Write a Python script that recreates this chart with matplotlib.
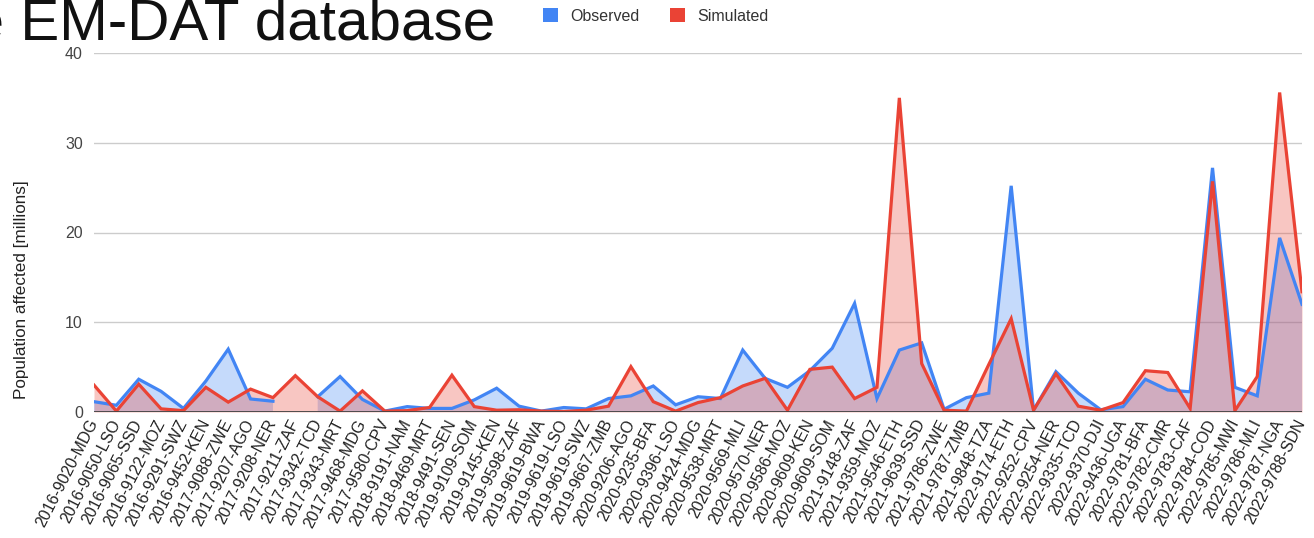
import numpy as np
import matplotlib
matplotlib.use("Agg")
import matplotlib.pyplot as plt
from matplotlib.patches import Patch

plt.rcParams['font.family'] = ['Liberation Sans', 'DejaVu Sans']

eventos = [
    "2016-9020-MDG", "2016-9050-LSO", "2016-9065-SSD", "2016-9122-MOZ", "2016-9291-SWZ",
    "2016-9452-KEN", "2017-9088-ZWE", "2017-9207-AGO", "2017-9208-NER", "2017-9211-ZAF",
    "2017-9342-TCD", "2017-9343-MRT", "2017-9468-MDG", "2017-9580-CPV", "2018-9191-NAM",
    "2018-9469-MRT", "2018-9491-SEN", "2019-9109-SOM", "2019-9145-KEN", "2019-9598-ZAF",
    "2019-9619-BWA", "2019-9619-LSO", "2019-9619-SWZ", "2019-9667-ZMB", "2020-9206-AGO",
    "2020-9235-BFA", "2020-9396-LSO", "2020-9424-MDG", "2020-9538-MRT", "2020-9569-MLI",
    "2020-9570-NER", "2020-9586-MOZ", "2020-9609-KEN", "2020-9609-SOM", "2021-9148-ZAF",
    "2021-9359-MOZ", "2021-9546-ETH", "2021-9639-SSD", "2021-9786-ZWE", "2021-9787-ZMB",
    "2021-9848-TZA", "2022-9174-ETH", "2022-9252-CPV", "2022-9254-NER", "2022-9335-TCD",
    "2022-9370-DJI", "2022-9436-UGA", "2022-9781-BFA", "2022-9782-CMR", "2022-9783-CAF",
    "2022-9784-COD", "2022-9785-MWI", "2022-9786-MLI", "2022-9787-NGA", "2022-9788-SDN",
]

# millones de personas afectadas; None = sin dato observado
observado = [
    1.15, 0.75, 3.65, 2.3, 0.4, 3.45, 7.0, 1.45, 1.2, None,
    1.7, 3.95, 1.4, 0.1, 0.6, 0.4, 0.4, 1.35, 2.65, 0.65,
    0.1, 0.5, 0.35, 1.5, 1.8, 2.9, 0.8, 1.7, 1.5, 6.9,
    3.75, 2.75, 4.6, 7.1, 12.1, 1.5, 6.9, 7.7, 0.3, 1.6,
    2.1, 25.2, 0.2, 4.5, 2.1, 0.25, 0.6, 3.65, 2.45, 2.25,
    27.2, 2.75, 1.8, 19.4, 12.0,
]
simulado = [
    3.0, 0.1, 3.1, 0.35, 0.15, 2.75, 1.1, 2.55, 1.6, 4.05,
    1.7, 0.1, 2.35, 0.1, 0.15, 0.5, 4.1, 0.6, 0.2, 0.25,
    0.1, 0.05, 0.2, 0.65, 5.05, 1.15, 0.1, 1.05, 1.6, 2.9,
    3.75, 0.2, 4.75, 5.0, 1.5, 2.75, 35.0, 5.4, 0.2, 0.1,
    5.3, 10.4, 0.2, 4.25, 0.65, 0.2, 1.05, 4.6, 4.4, 0.4,
    25.7, 0.15, 3.95, 35.6, 13.4,
]

AZUL = "#4285F4"
ROJO = "#EA4335"

W, H = 1314, 538
fig = plt.figure(figsize=(W / 100, H / 100), dpi=100)
ax = fig.add_axes([94 / W, (H - 412) / H, (1302 - 94) / W, (412 - 53) / H])

x = np.arange(len(eventos))
obs = np.array([np.nan if v is None else v for v in observado], dtype=float)
sim = np.array(simulado, dtype=float)

ax.fill_between(x, 0, obs, color=AZUL, alpha=0.3, lw=0)
ax.fill_between(x, 0, sim, color=ROJO, alpha=0.3, lw=0)
ax.plot(x, obs, color=AZUL, lw=2.3, solid_joinstyle='miter')
ax.plot(x, sim, color=ROJO, lw=2.3, solid_joinstyle='miter')

ax.set_xlim(0, len(eventos) - 1)
ax.set_ylim(0, 40)
ax.set_yticks([0, 10, 20, 30, 40])
ax.set_yticklabels(["0", "10", "20", "30", "40"], fontsize=11.5, color="#444444")
ax.tick_params(axis='y', length=0, pad=8)
ax.grid(axis='y', color="#cccccc", lw=1)
ax.set_axisbelow(True)
ax.axhline(0, color="#444444", lw=1.3, zorder=5)
for s in ax.spines.values():
    s.set_visible(False)

ax.set_xticks(x)
ax.set_xticklabels(eventos, rotation=63, ha='right', va='center',
                   rotation_mode='anchor', fontsize=11.5, color="#222222")
ax.tick_params(axis='x', length=0, pad=6)

fig.text(22 / W, 1 - 290 / H, "Population affected [millions]", rotation=90,
         ha='center', va='center', fontsize=12.3, color="#222222")

fig.text(495 / W, 1 - 40 / H, "the EM-DAT database", ha='right', va='baseline',
         fontsize=42, color="#111111")

handles = [Patch(facecolor=AZUL, edgecolor='none'), Patch(facecolor=ROJO, edgecolor='none')]
fig.legend(handles, ["Observed", "Simulated"], loc='center left',
           bbox_to_anchor=(529 / W, 1 - 16 / H), ncol=2, frameon=False,
           fontsize=11.5, handlelength=0.9, handleheight=0.9, handletextpad=0.8,
           columnspacing=1.9, labelcolor="#333333")

fig.savefig("out.png", dpi=100)
